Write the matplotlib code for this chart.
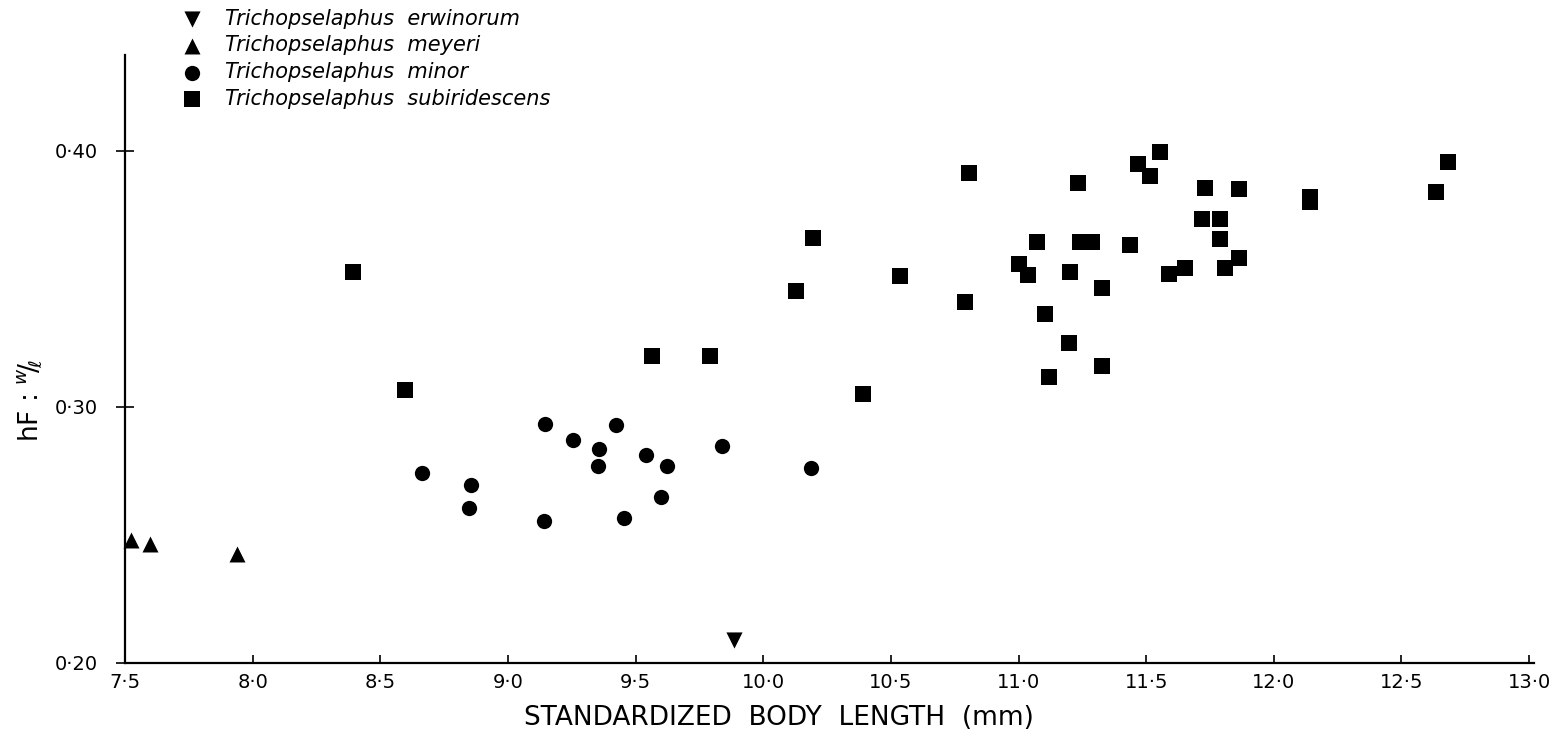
import matplotlib
matplotlib.use("Agg")
import matplotlib.pyplot as plt
from matplotlib.ticker import FuncFormatter

# body length (mm) and hF : w/l ratio
erwinorum_x = [9.885]
erwinorum_y = [0.209]

meyeri_x = [7.525, 7.597, 7.94]
meyeri_y = [0.248, 0.2464, 0.2426]

minor_x = [9.145, 9.424, 9.253, 9.355, 9.353, 9.54, 9.625, 9.837, 10.187,
           8.663, 8.857, 8.849, 9.142, 9.453, 9.598]
minor_y = [0.2934, 0.2931, 0.287, 0.2835, 0.2771, 0.2814, 0.2771, 0.2846, 0.2762,
           0.2742, 0.2696, 0.2606, 0.2555, 0.2565, 0.265]

subir_x = [8.393, 8.597, 9.564, 9.792, 10.128, 10.196, 10.392, 10.537,
           10.807, 10.791, 11.0, 11.037, 11.072, 11.105, 11.121, 11.196, 11.2,
           11.232, 11.242, 11.287, 11.327, 11.328, 11.437, 11.469, 11.516, 11.554,
           11.589, 11.652, 11.72, 11.731, 11.791, 11.791, 11.809, 11.864, 11.865,
           12.143, 12.143, 12.636, 12.681]
subir_y = [0.3529, 0.3066, 0.3199, 0.3199, 0.3454, 0.3659, 0.3051, 0.3512,
           0.3913, 0.341, 0.356, 0.3517, 0.3643, 0.3362, 0.3118, 0.3251, 0.3526,
           0.3874, 0.3646, 0.3643, 0.3465, 0.316, 0.3634, 0.3949, 0.3904, 0.3997,
           0.352, 0.3542, 0.3733, 0.3857, 0.3733, 0.3657, 0.3542, 0.3852, 0.3581,
           0.3822, 0.3801, 0.3839, 0.3956]

x_ticks = [7.5, 8.0, 8.5, 9.0, 9.5, 10.0, 10.5, 11.0, 11.5, 12.0, 12.5, 13.0]
y_ticks = [0.20, 0.30, 0.40]

plt.rcParams['font.family'] = ['DejaVu Sans']

fig = plt.figure(figsize=(15.6, 7.36), dpi=100)
ax = fig.add_axes([0.0801, 0.0992, 0.9034, 0.8261])

ax.scatter(erwinorum_x, erwinorum_y, marker='v', s=135, c='black', linewidths=0,
           label='Trichopselaphus  erwinorum', clip_on=False, zorder=3)
ax.scatter(meyeri_x, meyeri_y, marker='^', s=132, c='black', linewidths=0,
           label='Trichopselaphus  meyeri', clip_on=False, zorder=3)
ax.scatter(minor_x, minor_y, marker='o', s=121, c='black', linewidths=0,
           label='Trichopselaphus  minor', clip_on=False, zorder=3)
ax.scatter(subir_x, subir_y, marker='s', s=117, c='black', linewidths=0,
           label='Trichopselaphus  subiridescens', clip_on=False, zorder=3)

ax.set_xlim(7.5, 13.02)
ax.set_ylim(0.20, 0.4375)

for side in ['top', 'right']:
    ax.spines[side].set_visible(False)
for side in ['left', 'bottom']:
    ax.spines[side].set_linewidth(1.6)

ax.set_xticks(x_ticks)
ax.set_yticks(y_ticks)
ax.set_xticks([13.0], minor=True)
ax.xaxis.set_major_formatter(FuncFormatter(lambda v, p: f'{v:.1f}'.replace('.', '·')))
ax.yaxis.set_major_formatter(FuncFormatter(lambda v, p: f'{v:.2f}'.replace('.', '·')))
ax.tick_params(axis='x', which='major', direction='in', length=6, width=1.2,
               pad=7, labelsize=14)
ax.tick_params(axis='x', which='minor', direction='out', length=5, width=1.2)
ax.tick_params(axis='y', direction='inout', length=13, width=1.2,
               pad=13, labelsize=14)

ax.set_xlabel('STANDARDIZED  BODY  LENGTH  (mm)', fontsize=19, va='center')
ax.xaxis.set_label_coords(0.464, -0.0905)
ax.set_ylabel(r'hF : $^{w}\!/\!_{\ell}$', fontsize=19, va='center')
ax.yaxis.set_label_coords(-0.0677, 0.431)

fig.legend(loc='upper left', bbox_to_anchor=(0.1168, 0.988), frameon=False,
           borderpad=0, borderaxespad=0, handlelength=0.95, handletextpad=1.1,
           labelspacing=0.32, prop={'style': 'italic', 'size': 15})

fig.savefig('out.png', dpi=100)
